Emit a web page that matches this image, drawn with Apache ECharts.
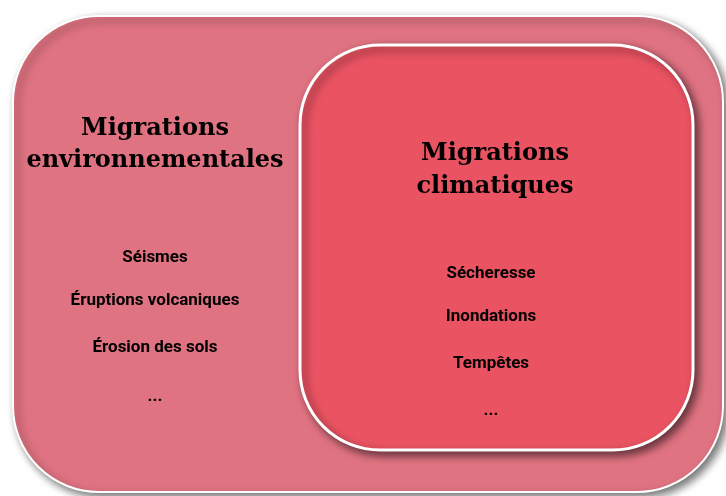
<!DOCTYPE html>
<html><head><meta charset="utf-8">
<script src="https://cdn.jsdelivr.net/npm/echarts@6/dist/echarts.min.js"></script>
<style>html,body{margin:0;padding:0;background:#fff}#c{width:726px;height:496px}</style>
</head><body><div id="c"></div>
<script>
const outerTitle = ["Migrations", "environnementales"];
const innerTitle = ["Migrations", "climatiques"];
const outerItems = ["Séismes", "Éruptions volcaniques", "Érosion des sols", "..."];
const innerItems = ["Sécheresse", "Inondations", "Tempêtes", "..."];

const outerItemY = [258, 301, 348, 397];
const innerItemY = [274, 317, 364, 411];

const chart = echarts.init(document.getElementById('c'), null, {renderer: 'canvas'});
const els = [];
els.push({type:'rect', shape:{x:13,y:16,width:710,height:476,r:86},
  style:{fill:'#E07382', stroke:'#fff', lineWidth:2, shadowBlur:8, shadowOffsetX:4, shadowOffsetY:4, shadowColor:'rgba(0,0,0,0.55)'}});
els.push({type:'rect', shape:{x:300,y:45,width:393,height:405,r:80},
  style:{fill:'#EA5362', stroke:'#fff', lineWidth:3, shadowBlur:8, shadowOffsetX:4, shadowOffsetY:4, shadowColor:'rgba(0,0,0,0.55)'}});
const titleFont = 'bold 24px "DejaVu Serif"';
outerTitle.forEach((t,i)=>els.push({type:'text', x:155, y:129+i*32, style:{text:t, font:titleFont, fill:'#000', align:'center', verticalAlign:'middle'}}));
innerTitle.forEach((t,i)=>els.push({type:'text', x:495, y:154+i*33, style:{text:t, font:titleFont, fill:'#000', align:'center', verticalAlign:'middle'}}));
const itemFont = 'bold 17px Roboto';
outerItems.forEach((t,i)=>els.push({type:'text', x:155, y:outerItemY[i], style:{text:t, font:itemFont, fill:'#000', align:'center', verticalAlign:'middle'}}));
innerItems.forEach((t,i)=>els.push({type:'text', x:491, y:innerItemY[i], style:{text:t, font:itemFont, fill:'#000', align:'center', verticalAlign:'middle'}}));
chart.setOption({animation:false, graphic:{elements:els}});
</script></body></html>
